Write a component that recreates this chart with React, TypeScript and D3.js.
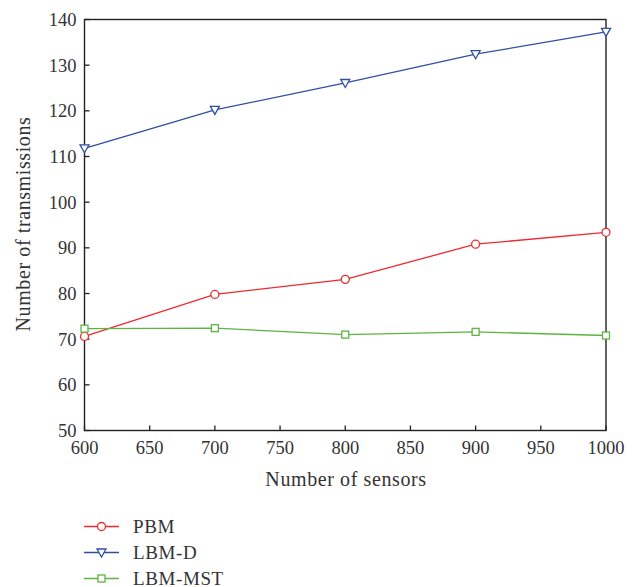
import React from "react";
import * as d3 from "d3";

const sensors = [600, 700, 800, 900, 1000];
const pbm = [70.6, 79.8, 83.1, 90.8, 93.4];
const lbmD = [111.8, 120.2, 126.1, 132.4, 137.3];
const lbmMst = [72.3, 72.4, 71.0, 71.6, 70.8];
const xTicks = [600, 650, 700, 750, 800, 850, 900, 950, 1000];
const yTicks = [50, 60, 70, 80, 90, 100, 110, 120, 130, 140];

const series = [
  { name: "PBM", values: pbm, color: "#ee2a2e", marker: "circle" },
  { name: "LBM-D", values: lbmD, color: "#2f4fa3", marker: "triangle" },
  { name: "LBM-MST", values: lbmMst, color: "#5cb540", marker: "square" },
];

const W = 637, H = 587;
const left = 84.5, right = 606, top = 19.5, bottom = 430.5;
const font = "'Liberation Serif', 'DejaVu Serif', serif";

function Marker({ type, x, y, color }: { type: string; x: number; y: number; color: string }) {
  if (type === "circle") return <circle cx={x} cy={y} r={4} fill="white" stroke={color} strokeWidth={1.3} />;
  if (type === "square") return <rect x={x - 3.5} y={y - 3.5} width={7} height={7} fill="white" stroke={color} strokeWidth={1.3} />;
  const p = `M${x - 4.5},${y - 3.5}L${x + 4.5},${y - 3.5}L${x},${y + 4.5}Z`;
  return <path d={p} fill="white" stroke={color} strokeWidth={1.3} />;
}

export default function App() {
  const x = d3.scaleLinear().domain([600, 1000]).range([left, right]);
  const y = d3.scaleLinear().domain([50, 140]).range([bottom, top]);
  const line = d3.line<number>().x((_, i) => x(sensors[i])).y((d) => y(d));
  return (
    <svg width={W} height={H} style={{ position: "absolute", left: 0, top: 0 }} fontFamily={font}>
      <rect x={0} y={0} width={W} height={H} fill="white" />
      {yTicks.map((t) => (
        <g key={"y" + t}>
          <line x1={left} x2={left + 5} y1={y(t)} y2={y(t)} stroke="#222" strokeWidth={1.3} />
          <text x={left - 8} y={y(t)} dy="0.35em" textAnchor="end" fontSize={18.5} fill="#333">{t}</text>
        </g>
      ))}
      {xTicks.map((t) => (
        <g key={"x" + t}>
          <line x1={x(t)} x2={x(t)} y1={bottom} y2={bottom - 5} stroke="#222" strokeWidth={1.3} />
          <text x={x(t)} y={bottom + 23} textAnchor="middle" fontSize={18.5} fill="#333">{t}</text>
        </g>
      ))}
      <rect x={left} y={top} width={right - left} height={bottom - top} fill="none" stroke="#222" strokeWidth={1.4} />
      {series.map((s) => (
        <g key={s.name}>
          <path d={line(s.values) || ""} fill="none" stroke={s.color} strokeWidth={1.3} />
          {s.values.map((v, i) => (
            <Marker key={i} type={s.marker} x={x(sensors[i])} y={y(v)} color={s.color} />
          ))}
        </g>
      ))}
      <text x={346} y={486} textAnchor="middle" fontSize={20} letterSpacing={0.6} fill="#333">Number of sensors</text>
      <text transform={`translate(30,224) rotate(-90)`} textAnchor="middle" fontSize={20} letterSpacing={0.6} fill="#333">Number of transmissions</text>
      {series.map((s, i) => {
        const ly = 526.5 + i * 26;
        return (
          <g key={"l" + s.name}>
            <line x1={84} x2={119} y1={ly} y2={ly} stroke={s.color} strokeWidth={1.3} />
            <Marker type={s.marker} x={101.5} y={ly} color={s.color} />
            <text x={133} y={ly} dy="0.35em" fontSize={19} letterSpacing={0.6} fill="#333">{s.name}</text>
          </g>
        );
      })}
    </svg>
  );
}
